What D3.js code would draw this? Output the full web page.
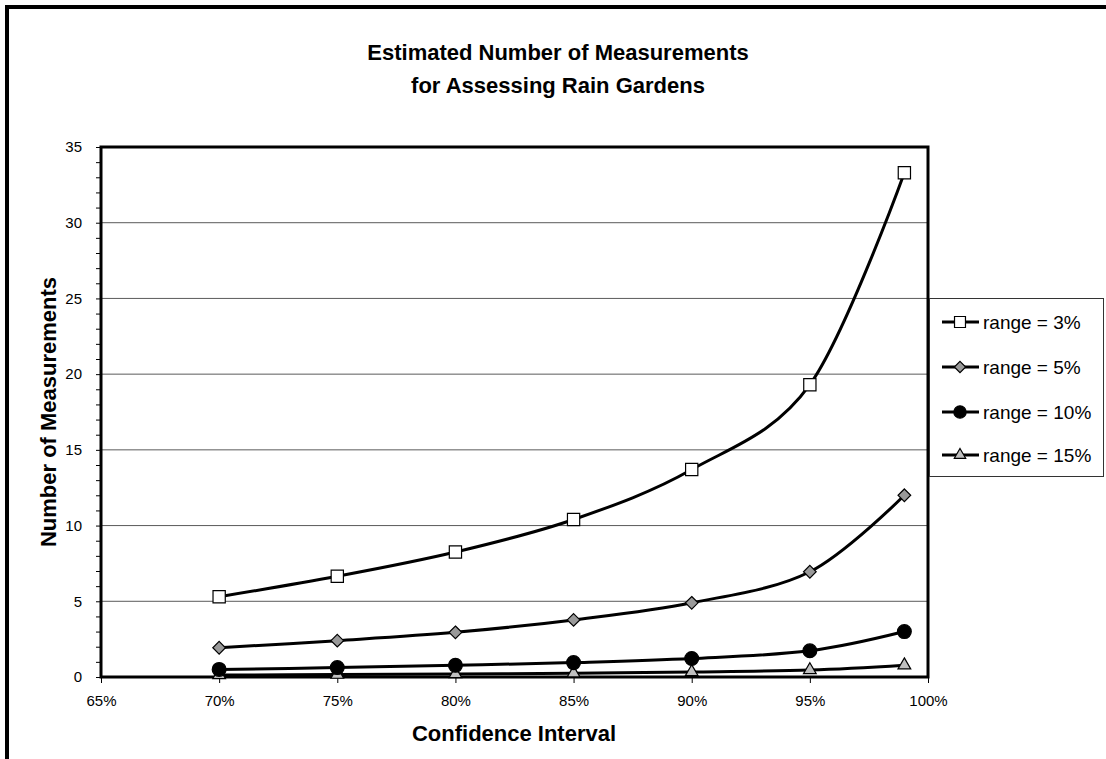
<!DOCTYPE html>
<html>
<head>
<meta charset="utf-8">
<script src="https://cdn.jsdelivr.net/npm/d3@7"></script>
<style>
    body { margin: 0; background: #fff; overflow: hidden; }
    svg { display: block; font-family: Arial, "Liberation Sans", sans-serif; }
</style>
</head>
<body>
<svg id="chart" width="1106" height="759"></svg>
<script>
// confidence levels along x
const confidence = [0.70, 0.75, 0.80, 0.85, 0.90, 0.95, 0.99];
const range3 = [5.3, 6.65, 8.25, 10.4, 13.7, 19.3, 33.3];
const range5 = [1.93, 2.4, 2.95, 3.77, 4.9, 6.95, 12.0];
const range10 = [0.5, 0.62, 0.77, 0.95, 1.22, 1.73, 3.0];
const range15 = [0.13, 0.16, 0.2, 0.25, 0.33, 0.46, 0.78];
const seriesNames = ['range = 3%', 'range = 5%', 'range = 10%', 'range = 15%'];
const xTicks = [0.65, 0.70, 0.75, 0.80, 0.85, 0.90, 0.95, 1.00];
const yTicks = [0, 5, 10, 15, 20, 25, 30, 35];

// diamond = square turned 45 degrees
const diamond = {
    draw: function(context, size) {
        const r = Math.sqrt(size / 2);
        context.moveTo(0, -r);
        context.lineTo(r, 0);
        context.lineTo(0, r);
        context.lineTo(-r, 0);
        context.closePath();
    }
};

const series = [
    {name: seriesNames[0], values: range3, symbol: d3.symbolSquare, size: 150, fill: '#fff'},
    {name: seriesNames[1], values: range5, symbol: diamond, size: 80, fill: '#999'},
    {name: seriesNames[2], values: range10, symbol: d3.symbolCircle, size: 150, fill: '#000'},
    {name: seriesNames[3], values: range15, symbol: d3.symbolTriangle, size: 70, fill: '#c0c0c0'}
];

const plot = {left: 101, right: 928, top: 147, bottom: 677};

const svg = d3.select('#chart');

// outer chart frame, only top and left edges fall inside the picture
svg.append('path')
    .attr('d', 'M7,800V7H1200')
    .attr('fill', 'none')
    .attr('stroke', '#000')
    .attr('stroke-width', 4);

const xScale = d3.scaleLinear()
    .domain([0.65, 1.0])
    .range([plot.left, plot.right]);

const yScale = d3.scaleLinear()
    .domain([0, 35])
    .range([plot.bottom, plot.top]);

// gridlines
svg.append('g')
    .selectAll('line')
    .data(yTicks.filter(d => d > 0 && d < 35))
    .enter().append('line')
    .attr('x1', plot.left).attr('x2', plot.right)
    .attr('y1', d => yScale(d)).attr('y2', d => yScale(d))
    .attr('stroke', '#5a5a5a')
    .attr('stroke-width', 1);

// y axis, minor ticks every unit
const yAxis = d3.axisLeft(yScale)
    .tickValues(d3.range(0, 36))
    .tickSize(5)
    .tickPadding(14)
    .tickFormat(d => yTicks.includes(d) ? d : '');

const yGuide = svg.append('g')
    .attr('transform', 'translate(' + plot.left + ',0)')
    .call(yAxis);
yGuide.select('.domain').remove();
yGuide.selectAll('text').style('font-size', '15px').attr('fill', '#000');
yGuide.selectAll('line').attr('stroke', '#000');

const xAxis = d3.axisBottom(xScale)
    .tickValues(xTicks)
    .tickSize(6)
    .tickPadding(12)
    .tickFormat(d3.format('.0%'));

const xGuide = svg.append('g')
    .attr('transform', 'translate(0,' + plot.bottom + ')')
    .call(xAxis);
xGuide.select('.domain').remove();
xGuide.selectAll('text').style('font-size', '15px').attr('fill', '#000');
xGuide.selectAll('line').attr('stroke', '#000');

// plot border
svg.append('rect')
    .attr('x', plot.left).attr('y', plot.top)
    .attr('width', plot.right - plot.left)
    .attr('height', plot.bottom - plot.top)
    .attr('fill', 'none')
    .attr('stroke', '#000')
    .attr('stroke-width', 3);

const line = d3.line()
    .x((d, i) => xScale(confidence[i]))
    .y(d => yScale(d))
    .curve(d3.curveCardinal.tension(0));

const groups = svg.append('g')
    .selectAll('g')
    .data(series.slice().reverse())
    .enter().append('g');

groups.append('path')
    .attr('d', d => line(d.values))
    .attr('fill', 'none')
    .attr('stroke', '#000')
    .attr('stroke-width', 3);

groups.selectAll('path.marker')
    .data(d => d.values.map((v, i) => ({v: v, i: i, s: d})))
    .enter().append('path')
    .attr('class', 'marker')
    .attr('d', d => d3.symbol().type(d.s.symbol).size(d.s.size)())
    .attr('transform', d => 'translate(' + xScale(confidence[d.i]) + ',' + yScale(d.v) + ')')
    .attr('fill', d => d.s.fill)
    .attr('stroke', '#000')
    .attr('stroke-width', 1.2);

// titles
svg.append('text')
    .attr('x', 558).attr('y', 60)
    .attr('text-anchor', 'middle')
    .style('font-size', '22px').style('font-weight', 'bold')
    .text('Estimated Number of Measurements');
svg.append('text')
    .attr('x', 558).attr('y', 93)
    .attr('text-anchor', 'middle')
    .style('font-size', '22px').style('font-weight', 'bold')
    .text('for Assessing Rain Gardens');

svg.append('text')
    .attr('x', 514).attr('y', 741)
    .attr('text-anchor', 'middle')
    .style('font-size', '22px').style('font-weight', 'bold')
    .text('Confidence Interval');

svg.append('text')
    .attr('transform', 'translate(56,' + ((plot.top + plot.bottom) / 2) + ') rotate(-90)')
    .attr('text-anchor', 'middle')
    .style('font-size', '22px').style('font-weight', 'bold')
    .text('Number of Measurements');

// legend
const legend = svg.append('g');
legend.append('rect')
    .attr('x', 929.5).attr('y', 298.5)
    .attr('width', 174).attr('height', 178)
    .attr('fill', '#fff')
    .attr('stroke', '#333')
    .attr('stroke-width', 1);

const legendRows = [322, 367, 412, 455];
const item = legend.selectAll('g.item')
    .data(series)
    .enter().append('g')
    .attr('class', 'item')
    .attr('transform', (d, i) => 'translate(0,' + legendRows[i] + ')');

item.append('line')
    .attr('x1', 942).attr('x2', 979)
    .attr('stroke', '#000')
    .attr('stroke-width', 3);

item.append('path')
    .attr('d', d => d3.symbol().type(d.symbol).size(d.size * 0.8)())
    .attr('transform', 'translate(960,0)')
    .attr('fill', d => d.fill)
    .attr('stroke', '#000')
    .attr('stroke-width', 1.2);

item.append('text')
    .attr('x', 983).attr('y', 7)
    .style('font-size', '19px')
    .text(d => d.name);
</script>
</body>
</html>
